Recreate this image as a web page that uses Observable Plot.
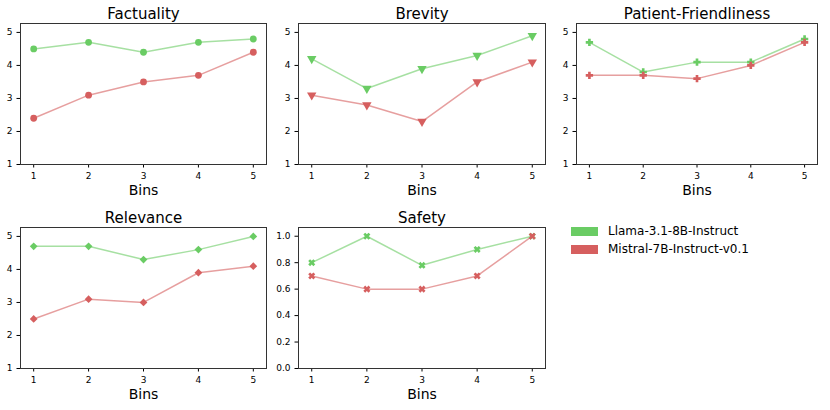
<!DOCTYPE html>
<html><head><meta charset="utf-8">
<script src="https://cdn.jsdelivr.net/npm/d3@7"></script>
<script src="https://cdn.jsdelivr.net/npm/@observablehq/plot@0.6"></script>
<style>
body{margin:0;background:#fff;font-family:"DejaVu Sans",sans-serif;}
#wrap{position:relative;width:830px;height:410px;overflow:hidden;}
.panel{position:absolute;}
.leg{position:absolute;font-size:12px;color:#000;white-space:nowrap;}
.sw{position:absolute;width:27px;height:9px;}
</style></head><body><div id="wrap"></div>
<script>
const bins = [1, 2, 3, 4, 5];
const models = ["Llama-3.1-8B-Instruct", "Mistral-7B-Instruct-v0.1"];
const colors = ["#6acc64", "#d65f5f"];

const factualityLlama = [4.5, 4.7, 4.4, 4.7, 4.8];
const factualityMistral = [2.4, 3.1, 3.5, 3.7, 4.4];
const brevityLlama = [4.2, 3.3, 3.9, 4.3, 4.9];
const brevityMistral = [3.1, 2.8, 2.3, 3.5, 4.1];
const patientLlama = [4.7, 3.8, 4.1, 4.1, 4.8];
const patientMistral = [3.7, 3.7, 3.6, 4.0, 4.7];
const relevanceLlama = [4.7, 4.7, 4.3, 4.6, 5.0];
const relevanceMistral = [2.5, 3.1, 3.0, 3.9, 4.1];
const safetyLlama = [0.8, 1.0, 0.78, 0.9, 1.0];
const safetyMistral = [0.7, 0.6, 0.6, 0.7, 1.0];

const scoreTicks = [1, 2, 3, 4, 5];
const safetyTicks = [0.0, 0.2, 0.4, 0.6, 0.8, 1.0];

// filled plus symbol (matplotlib "P")
const plusFilled = {
  draw(ctx, size) {
    const s = Math.sqrt(size / Math.PI);
    const a = s * 1.08, w = a * 0.36;
    ctx.moveTo(-w, -a); ctx.lineTo(w, -a); ctx.lineTo(w, -w); ctx.lineTo(a, -w);
    ctx.lineTo(a, w); ctx.lineTo(w, w); ctx.lineTo(w, a); ctx.lineTo(-w, a);
    ctx.lineTo(-w, w); ctx.lineTo(-a, w); ctx.lineTo(-a, -w); ctx.lineTo(-w, -w);
    ctx.closePath();
  }
};

const panels = [
  {title: "Factuality", frame: [20, 266, 23, 164], yd: [1, 5.27], yt: scoreTicks, fmt: d => d, a: factualityLlama, b: factualityMistral, symbol: "circle", r: 3.4, rotate: 0},
  {title: "Brevity", frame: [298, 545, 23, 164], yd: [1, 5.27], yt: scoreTicks, fmt: d => d, a: brevityLlama, b: brevityMistral, symbol: "triangle", r: 3.5, rotate: 180},
  {title: "Patient-Friendliness", frame: [576, 817, 23, 164], yd: [1, 5.27], yt: scoreTicks, fmt: d => d, a: patientLlama, b: patientMistral, symbol: plusFilled, r: 3.4, rotate: 0},
  {title: "Relevance", frame: [20, 266, 227, 368], yd: [1, 5.27], yt: scoreTicks, fmt: d => d, a: relevanceLlama, b: relevanceMistral, symbol: "diamond2", r: 3.5, rotate: 0},
  {title: "Safety", frame: [298, 545, 227, 368], yd: [0, 1.066], yt: safetyTicks, fmt: d3.format(".1f"), a: safetyLlama, b: safetyMistral, symbol: plusFilled, r: 3.4, rotate: 45}
];

const wrap = document.getElementById("wrap");
const mL = 32, mR = 6, mT = 26, mB = 36;

for (const p of panels) {
  const [l, r, t, b] = p.frame;
  const data = [];
  bins.forEach((bin, i) => data.push({bin, value: p.a[i], model: models[0]}));
  bins.forEach((bin, i) => data.push({bin, value: p.b[i], model: models[1]}));
  const chart = Plot.plot({
    width: (r - l) + mL + mR,
    height: (b - t) + mT + mB,
    marginLeft: mL, marginRight: mR, marginTop: mT, marginBottom: mB,
    style: {fontFamily: "DejaVu Sans", fontSize: "9px", color: "#000", background: "transparent"},
    x: {domain: [0.76, 5.24]},
    y: {domain: p.yd},
    color: {domain: models, range: colors},
    marks: [
      Plot.line(data, {x: "bin", y: "value", z: "model", stroke: "model", strokeOpacity: 0.6, strokeWidth: 1.5}),
      Plot.dot(data, {x: "bin", y: "value", fill: "model", symbol: p.symbol, r: p.r, rotate: p.rotate, stroke: "none"}),
      Plot.axisX({ticks: bins, tickSize: 3.5, tickPadding: 5, tickFormat: d => d, label: null}),
      Plot.axisY({ticks: p.yt, tickSize: 3.5, tickPadding: 4.5, tickFormat: p.fmt, label: null}),
      Plot.frame({stroke: "#333", strokeWidth: 1}),
      Plot.text([p.title], {frameAnchor: "top", dy: -5, lineAnchor: "bottom", fontSize: 15, text: d => d, fill: "#000"}),
      Plot.text(["Bins"], {frameAnchor: "bottom", dy: 30, lineAnchor: "bottom", fontSize: 14, text: d => d, fill: "#000"})
    ]
  });
  chart.classList.add("panel");
  chart.style.left = (l - mL) + "px";
  chart.style.top = (t - mT) + "px";
  chart.style.overflow = "visible";
  wrap.appendChild(chart);
}

// legend
const legendItems = [{label: models[0], color: colors[0], top: 227}, {label: models[1], color: colors[1], top: 245}];
for (const it of legendItems) {
  const sw = document.createElement("div");
  sw.className = "sw";
  sw.style.left = "571px"; sw.style.top = it.top + "px"; sw.style.background = it.color;
  wrap.appendChild(sw);
  const tx = document.createElement("div");
  tx.className = "leg";
  tx.style.left = "608px"; tx.style.top = (it.top - 4) + "px"; tx.style.lineHeight = "16px";
  tx.textContent = it.label;
  wrap.appendChild(tx);
}
</script></body></html>
